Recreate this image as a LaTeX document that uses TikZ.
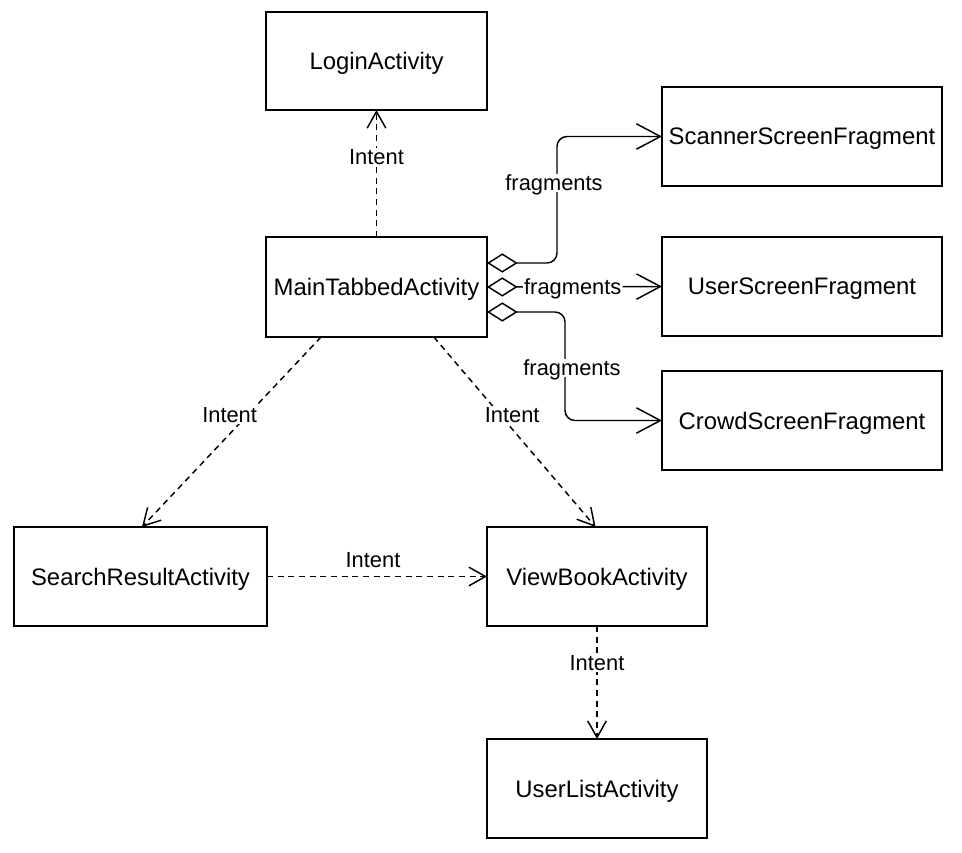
\documentclass[tikz,border=0pt]{standalone}
\usepackage{fontspec}
\setmainfont{Liberation Sans}
\usetikzlibrary{arrows.meta}
\tikzset{
  box/.style 2 args={draw, line width=1.5pt, fill=white, inner sep=0pt, outer sep=0pt,
    minimum width=#1*0.75pt, minimum height=#2*0.75pt, text depth=0pt,
    font=\fontsize{17.9}{20}\selectfont},
  conn/.style={line width=1.1pt},
  intent/.style={conn, dash pattern=on 4.5pt off 3.5pt,
    -{Straight Barb[length=12.5pt, width=14pt, line width=1.1pt]}},
  frag/.style={conn, rounded corners=7.5pt,
    {Diamond[open, length=23pt, width=14.5pt, line width=1.1pt]}-{Straight Barb[length=18pt, width=19pt, line width=1.1pt]}},
  lbl/.style={fill=white, inner sep=1pt, text depth=0pt, font=\fontsize{16.4}{18}\selectfont},
}
\begin{document}
\begin{tikzpicture}[x=0.75pt, y=-0.75pt]
\useasboundingbox (0,0) rectangle (962,852);

\node[box={221}{98}]  (login)    at (376.5,61)    {LoginActivity};
\node[box={221}{100}] (main)     at (376.5,287)   {MainTabbedActivity};
\node[box={280}{99}]  (scanner)  at (802,136.5)   {ScannerScreenFragment};
\node[box={280}{99}]  (user)     at (802,286.5)   {UserScreenFragment};
\node[box={280}{99}]  (crowd)    at (802,420.5)   {CrowdScreenFragment};
\node[box={253}{99}]  (search)   at (140.5,576.5) {SearchResultActivity};
\node[box={220}{99}]  (view)     at (597,576.5)   {ViewBookActivity};
\node[box={220}{99}]  (userlist) at (597,788.5)   {UserListActivity};

% Intent connectors
\draw[intent] (main.north) -- node[lbl, pos=0.63] {Intent} (login.south);
\draw[intent] ([xshift=-41.6pt]main.south) -- node[lbl, pos=0.41, xshift=-13.5pt] {Intent} ([xshift=1.1pt]search.north);
\draw[intent] ([xshift=43pt]main.south) -- node[lbl, pos=0.41, xshift=9pt] {Intent} ([xshift=-1.1pt]view.north);
\draw[intent] (search.east) -- node[lbl, above=5pt, fill=none, xshift=-3pt] {Intent} (view.west);
\draw[intent] (view.south) -- node[lbl, pos=0.33] {Intent} (userlist.north);

% fragment connectors
\coordinate (f1) at ([yshift=18pt]main.east);
\coordinate (f3) at ([yshift=-18.75pt]main.east);
\coordinate (c1) at (557,136.5);
\coordinate (c3) at (565,420.5);
\draw[frag] (f1) -| (c1) -- (scanner.west);
\node[lbl] (l1) at (554,183) {fragments};
\draw[frag] (main.east) -- node[lbl, pos=0.49] {fragments} (user.west);
\draw[frag] (f3) -| (c3) -- (crowd.west);
\node[lbl] (l3) at (572,368) {fragments};
\end{tikzpicture}
\end{document}
